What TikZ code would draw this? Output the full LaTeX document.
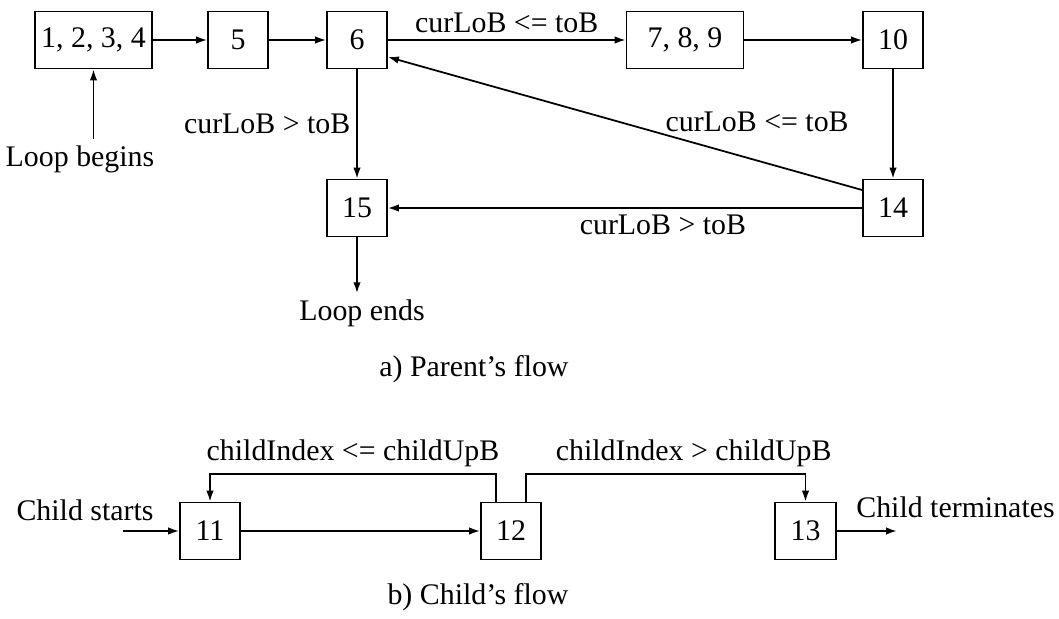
\documentclass[tikz,border=0pt]{standalone}
\usepackage{fontspec}
\setmainfont{Liberation Serif}
\usepackage{tikz}
\usetikzlibrary{calc}
\usetikzlibrary{positioning}
\usetikzlibrary{arrows.meta}

\begin{document}
\begin{tikzpicture}[
		font=\fontsize{17}{20}\selectfont,
		t/.style = {rectangle, draw=black, line width=1pt, minimum width=1.2cm, minimum height=1.14cm, inner sep=2pt},
		w/.style = {t, minimum width=2.34cm},
		r/.style = {-{Latex[length=2.2mm, width=1.5mm]}, line width=1pt}
		]
		\useasboundingbox (0,0) rectangle (21.18,-12.38);
		
		%Nodes
		\node[w]	(b1)	at	(1.87, -0.80)	{1, 2, 3, 4};
		\node[t]	(b5)	at	(4.76, -0.80)	{5};
		\node[t]	(b6)	at	(7.14, -0.80)	{6};
		\node[w]	(b7)	at	(13.70, -0.80)	{7, 8, 9};
		\node[t]	(b10)	at	(17.86, -0.80)	{10};
		\node[t]	(b14)	at	(17.86, -4.16)	{14};
		\node[t]	(b15)	at	(7.14, -4.16)	{15};
		\node		(lb)	at	(1.60, -3.18)	{Loop begins};
		\node		(le)	at	(7.24, -6.26)	{Loop ends};
		\node		(pa)	at	(9.48, -7.38)	{a) Parent's flow};
		
		\node[t]	(c11)	at	(4.20, -10.62)	{11};
		\node[t]	(c12)	at	(10.22, -10.62)	{12};
		\node[t, minimum width=1.22cm]	(c13)	at	(16.11, -10.62)	{13};
		\node		(cs)	at	(1.70, -10.20)	{Child starts};
		\node		(ct)	at	(19.11, -10.14)	{Child terminates};
		\coordinate	(cin)	at	(2.46, -10.62);
		\coordinate	(cout)	at	(17.94, -10.62);
		\node		(pb)	at	(9.56, -11.94)	{b) Child's flow};
		
		%Lines
		\draw[r]	(lb.north -| b1.south)	to	(b1.south);
		\draw[r]	(b1.east)	to	(b5.west);
		\draw[r]	(b5.east)	to	(b6.west);
		\draw[r]	(b6.east)	to	node[above]	{curLoB <= toB}	(b7.west);
		\draw[r]	(b7.east)	to	(b10.west);
		\draw[r]	(b10.south)	to	(b14.north);
		\draw[r]	($(b14.west)+(0,0.36)$)	to	node[pos=.42, anchor=south west, inner sep=1pt]	{curLoB <= toB}	($(b6.east)+(0,-0.34)$);
		\draw[r]	(b6.south)	to	node[left]	{curLoB > toB}	(b15.north);
		\draw[r]	(b14.west)	to	node[pos=.42, below]	{curLoB > toB}	(b15.east);
		\draw[r]	(b15.south)	to	(le.north -| b15.south);
		
		\draw[r]	(cin)	to	(c11.west);
		\draw[r]	(c11.east)	to	(c12.west);
		\draw[r]	([xshift=-0.3cm]c12.north)	-- ++(0,0.56)	-| node[pos=.25, above]	{childIndex <= childUpB}	(c11.north);
		\draw[r]	([xshift=0.3cm]c12.north)	-- ++(0,0.56)	-| node[pos=.3, above]	{childIndex > childUpB}	(c13.north);
		\draw[r]	(c13.east)	to	(cout);
	\end{tikzpicture}
\end{document}
